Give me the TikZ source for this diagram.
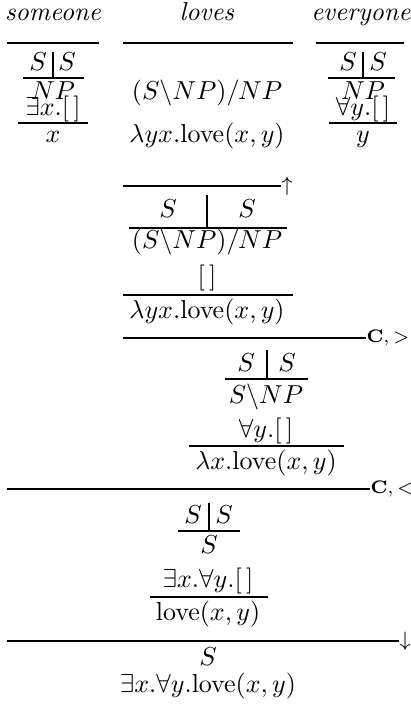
\documentclass[tikz,border=0pt]{standalone}
\begin{document}
\begin{tikzpicture}[x=0.385pt,y=-0.385pt,
  t/.style={inner sep=0pt,anchor=base},
  lab/.style={inner sep=0pt,font=\footnotesize,anchor=west},
  rule/.style={inner sep=0pt,font=\scriptsize,anchor=base west}]
\useasboundingbox (0,0) rectangle (410,706);
% ---- lexical entries
\node[t] (w1) at (53,21) {\textit{someone}};
\node[t] (w2) at (207,21) {\textit{loves}};
\node[t] (w3) at (361,21) {\textit{everyone}};
\draw (7,43) -- (99,43);
\draw (123,43) -- (293,43);
\draw (316,43) -- (404,43);
% someone
\node[t] (a1) at (38,71) {$S$};
\node[t] (a2) at (67,71) {$S$};
\draw (53,52) -- (53,78);
\draw (23,78) -- (84,78);
\node[t] (a3) at (53,100) {$NP$};
\node[t] (a4) at (53,116) {$\exists x.[\,]$};
\draw (18,123) -- (88,123);
\node[t] (a5) at (53,142) {$x$};
% loves
\node[t] (b1) at (207,100) {$(S\backslash NP)/NP$};
\node[t] (b2) at (207,142) {$\lambda yx.\mathrm{love}(x,y)$};
% everyone
\node[t] (c1) at (348,71) {$S$};
\node[t] (c2) at (378,71) {$S$};
\draw (363,52) -- (363,78);
\draw (328,78) -- (395,78);
\node[t] (c3) at (363,100) {$NP$};
\node[t] (c4) at (363,116) {$\forall y.[\,]$};
\draw (329,123) -- (397,123);
\node[t] (c5) at (363,142) {$y$};
% ---- lift
\draw (123,186) -- (281,186) node[lab] (up) {$\uparrow$};
\node[t] (d1) at (168,218) {$S$};
\node[t] (d2) at (247,218) {$S$};
\draw (207,195) -- (207,228);
\draw (129,228) -- (287,228);
\node[t] (d3) at (207,248) {$(S\backslash NP)/NP$};
\node[t] (d4) at (207,284) {$[\,]$};
\draw (123,295) -- (293,295);
\node[t] (d5) at (207,318) {$\lambda yx.\mathrm{love}(x,y)$};
% ---- C,>
\draw (123,338) -- (366,338);
\node[rule] (cr) at (366,342) {$\mathbf{C},>$};
\node[t] (e1) at (246,371) {$S$};
\node[t] (e2) at (287,371) {$S$};
\draw (267,350) -- (267,379);
\draw (225,379) -- (308,379);
\node[t] (e3) at (266,403) {$S\backslash NP$};
\node[t] (e4) at (266,437) {$\forall y.[\,]$};
\draw (189,446) -- (344,446);
\node[t] (e5) at (266,469) {$\lambda x.\mathrm{love}(x,y)$};
% ---- C,<
\draw (7,489) -- (370,489);
\node[rule] (cl) at (370,493) {$\mathbf{C},<$};
\node[t] (f1) at (193,523) {$S$};
\node[t] (f2) at (224,523) {$S$};
\draw (209,503) -- (209,531);
\draw (178,531) -- (240,531);
\node[t] (f3) at (209,553) {$S$};
\node[t] (f4) at (208,587) {$\exists x.\forall y.[\,]$};
\draw (150,597) -- (268,597);
\node[t] (f5) at (208,620) {$\mathrm{love}(x,y)$};
% ---- lower
\draw (7,641) -- (399,641) node[lab] (dn) {$\downarrow$};
\node[t] (g1) at (208,665) {$S$};
\node[t] (g2) at (208,692) {$\exists x.\forall y.\mathrm{love}(x,y)$};
\end{tikzpicture}
\end{document}
